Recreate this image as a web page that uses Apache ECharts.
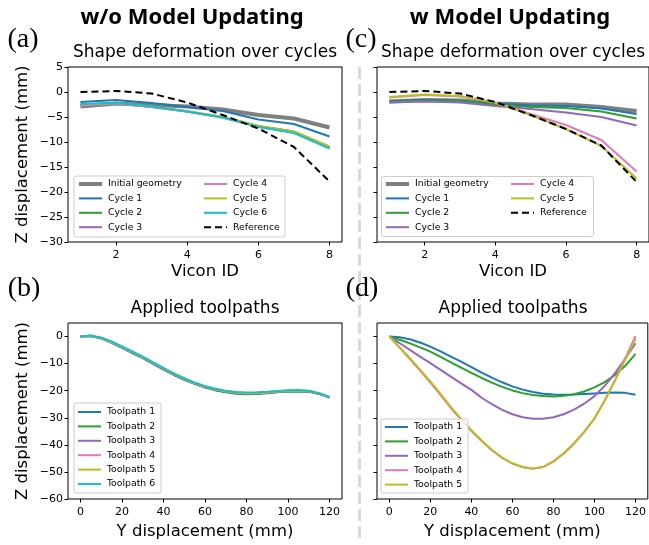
<!DOCTYPE html>
<html>
<head>
<meta charset="utf-8">
<script src="https://cdn.jsdelivr.net/npm/echarts@6/dist/echarts.min.js"></script>
<style>
html, body { margin: 0; padding: 0; background: #fff; }
#chart { width: 649px; height: 545px; }
</style>
</head>
<body>
<div id="chart"></div>
<script>
// ---- data ----
const viconIds = [1, 2, 3, 4, 5, 6, 7, 8];
const vTicks = [2, 4, 6, 8];
const zTicksTop = [-30, -25, -20, -15, -10, -5, 0, 5];

// (a) w/o model updating
const initialA = [-2.9, -2.3, -2.6, -2.9, -3.5, -4.6, -5.3, -7.1];
const cycle1A = [-2.0, -1.6, -2.2, -3.0, -3.8, -5.5, -6.4, -8.9];
const cycle2A = [-2.5, -2.2, -2.9, -3.9, -5.0, -6.8, -7.9, -11.0];
const cycle3A = [-2.8, -2.3, -3.0, -3.9, -5.1, -6.9, -8.0, -11.1];
const cycle4A = [-2.7, -2.3, -3.0, -3.9, -5.1, -6.9, -8.1, -11.1];
const cycle5A = [-2.5, -2.2, -2.9, -3.8, -5.0, -6.8, -7.9, -10.9];
const cycle6A = [-2.4, -2.2, -2.9, -3.9, -5.1, -7.0, -8.2, -11.3];
const refA = [0.0, 0.2, -0.3, -2.1, -4.6, -7.3, -11.0, -17.9];

// (c) w model updating
const initialC = [-1.9, -1.6, -1.7, -2.3, -2.5, -2.5, -3.0, -3.8];
const cycle1C = [-1.8, -1.6, -1.7, -2.3, -2.7, -2.8, -3.3, -4.4];
const cycle2C = [-1.9, -1.7, -1.8, -2.5, -3.0, -3.2, -3.9, -5.3];
const cycle3C = [-2.1, -1.9, -2.1, -2.8, -3.4, -4.1, -5.0, -6.7];
const cycle4C = [-1.1, -0.6, -0.9, -2.1, -4.4, -6.6, -9.6, -15.9];
const cycle5C = [-1.0, -0.5, -0.8, -2.1, -4.6, -7.4, -10.8, -17.3];
const refC = [0.0, 0.2, -0.3, -2.0, -4.6, -7.4, -10.7, -18.0];

// toolpaths, Y displacement (mm)
const yDisp = [0, 5, 10, 15, 20, 25, 30, 35, 40, 45, 50, 55, 60, 65, 70, 75, 80, 85, 90, 95, 100, 105, 110, 115, 120];
const yTicks = [0, 20, 40, 60, 80, 100, 120];
const zTicksBottom = [-60, -50, -40, -30, -20, -10, 0];

// (b)
const path1B = [0, 0.2, -0.7, -2.3, -4.2, -6.1, -8.0, -10.1, -12.2, -14.2, -16.0, -17.5, -18.8, -19.8, -20.5, -20.9, -21.1, -21.0, -20.8, -20.5, -20.3, -20.2, -20.4, -21.2, -22.5];
const path2B = [0, 0.2, -0.6, -2.1, -4.0, -5.9, -7.8, -9.9, -12.0, -14.0, -15.8, -17.4, -18.7, -19.8, -20.6, -21.1, -21.3, -21.2, -20.9, -20.6, -20.3, -20.2, -20.3, -21.1, -22.4];
const path3B = [0, 0.3, -0.5, -2.0, -3.9, -5.8, -7.7, -9.8, -11.9, -13.9, -15.7, -17.3, -18.6, -19.6, -20.3, -20.8, -21.0, -20.9, -20.7, -20.4, -20.1, -20.0, -20.2, -21.0, -22.4];
const path4B = [0, 0.3, -0.5, -2.0, -3.9, -5.7, -7.6, -9.7, -11.8, -13.8, -15.6, -17.2, -18.5, -19.5, -20.2, -20.7, -20.9, -20.9, -20.7, -20.4, -20.1, -20.0, -20.2, -21.0, -22.4];
const path5B = [0, 0.3, -0.5, -2.0, -3.8, -5.7, -7.6, -9.7, -11.8, -13.8, -15.6, -17.2, -18.5, -19.5, -20.2, -20.7, -20.9, -20.8, -20.6, -20.3, -20.0, -19.9, -20.1, -21.0, -22.4];
const path6B = [0, 0.4, -0.4, -1.8, -3.6, -5.5, -7.4, -9.5, -11.6, -13.6, -15.4, -17.0, -18.3, -19.3, -20.0, -20.5, -20.7, -20.6, -20.4, -20.1, -19.8, -19.7, -20.0, -20.9, -22.4];

// (d)
const path1D = [0, -0.3, -1.0, -2.2, -3.7, -5.5, -7.4, -9.3, -11.3, -13.3, -15.2, -16.9, -18.4, -19.6, -20.5, -21.1, -21.4, -21.5, -21.4, -21.2, -21.0, -20.8, -20.7, -20.8, -21.5];
const path2D = [0, -1.2, -2.5, -4.0, -5.6, -7.5, -9.5, -11.5, -13.4, -15.3, -17.0, -18.6, -19.9, -20.9, -21.6, -22.0, -22.1, -21.9, -21.3, -20.3, -18.8, -16.8, -14.2, -10.8, -6.4];
const path3D = [0, -2.4, -4.9, -7.4, -9.8, -12.3, -14.8, -17.3, -19.7, -22.6, -25.0, -27.1, -28.7, -29.8, -30.4, -30.4, -29.8, -28.7, -27.0, -24.8, -22.0, -18.2, -13.5, -8.2, -2.5];
const path4D = [0, -4.1, -8.3, -12.6, -17.0, -21.6, -26.4, -30.8, -34.9, -38.6, -42.0, -44.8, -46.9, -48.3, -48.8, -48.2, -46.2, -43.3, -39.6, -35.3, -30.3, -23.6, -16.1, -8.0, 0.2];
const path5D = [0, -3.9, -8.0, -12.2, -16.6, -21.2, -26.0, -30.4, -34.6, -38.4, -41.8, -44.7, -46.8, -48.2, -48.7, -48.1, -46.0, -43.1, -39.4, -35.1, -30.2, -23.7, -16.3, -8.6, -0.8];

const C = {
  gray: '#7f7f7f', blue: '#1f77b4', green: '#2ca02c', purple: '#9467bd',
  pink: '#e377c2', olive: '#bcbd22', cyan: '#17becf', black: '#000'
};
const FONT = 'DejaVu Sans';

function pairs(xs, ys) { return xs.map((x, i) => [x, ys[i]]); }
function line(name, xs, ys, idx, color, width, dash) {
  return {
    type: 'line', name: name, xAxisIndex: idx, yAxisIndex: idx,
    data: pairs(xs, ys), symbol: 'none', smooth: false,
    lineStyle: { color: color, width: width || 2, type: dash || 'solid' },
    itemStyle: { color: color },
    emphasis: { disabled: true }, z: 2
  };
}
const minus = v => String(v).replace('-', '\u2212');

function xAxis(idx, min, max, ticks, name) {
  return {
    type: 'value', gridIndex: idx, min: min, max: max,
    name: name || '', nameLocation: 'middle', nameGap: name === 'Vicon ID' ? 21 : 24,
    nameTextStyle: { fontFamily: FONT, fontSize: 16.5, color: '#000' },
    axisLine: { show: false, onZero: false }, splitLine: { show: false },
    axisTick: { show: true, length: 3.5, lineStyle: { color: '#000', width: 1 }, customValues: ticks },
    axisLabel: { show: true, customValues: ticks, margin: 8, fontFamily: FONT, fontSize: 11, color: '#000', formatter: minus }
  };
}
function yAxis(idx, min, max, ticks, name, showLabels) {
  return {
    type: 'value', gridIndex: idx, min: min, max: max,
    name: name || '', nameLocation: 'middle', nameGap: 37, nameRotate: 90,
    nameTextStyle: { fontFamily: FONT, fontSize: 16.5, color: '#000' },
    axisLine: { show: false, onZero: false }, splitLine: { show: false },
    axisTick: { show: true, length: 3.5, lineStyle: { color: '#000', width: 1 }, customValues: ticks },
    axisLabel: { show: showLabels, customValues: ticks, margin: 5, fontFamily: FONT, fontSize: 11, color: '#000', formatter: minus }
  };
}
function legend(names, left, top, widths) {
  return {
    show: true, orient: 'vertical', left: left, top: top, z: 20,
    itemWidth: 23, itemHeight: 10, itemGap: 4.4, padding: 0,
    selectedMode: false,
    itemStyle: { opacity: 0 },
    textStyle: { fontFamily: FONT, fontSize: 9.3, color: '#000', lineHeight: 10, padding: [0, 0, 0, 1] },
    data: names.map(n => ({ name: n, itemStyle: { opacity: 0 }, lineStyle: { width: (widths && widths[n]) || 2 } }))
  };
}
function frame(x, y, w, h) {
  return {
    type: 'rect', z: 10, silent: true,
    shape: { x: x, y: y, width: w, height: h, r: 2 },
    style: { fill: 'rgba(255,255,255,0.8)', stroke: '#cccccc', lineWidth: 1 }
  };
}
function label(text, x, y, font) {
  return { type: 'text', z: 30, silent: true, x: x, y: y,
    style: { text: text, font: font, fill: '#000', textAlign: 'center', textVerticalAlign: 'middle' } };
}

const grids = [
  { left: 68, top: 67, width: 274, height: 175 },
  { left: 377, top: 67, width: 272, height: 175 },
  { left: 68, top: 323, width: 274, height: 176 },
  { left: 377, top: 323, width: 272, height: 176 }
].map(g => Object.assign(g, { show: true, borderColor: '#000', borderWidth: 1, backgroundColor: 'transparent', containLabel: false }));

const option = {
  animation: false,
  backgroundColor: '#fff',
  grid: grids,
  xAxis: [
    xAxis(0, 0.65, 8.35, vTicks, 'Vicon ID'),
    xAxis(1, 0.65, 8.35, vTicks, 'Vicon ID'),
    xAxis(2, -6, 126, yTicks, 'Y displacement (mm)'),
    xAxis(3, -6, 126, yTicks, 'Y displacement (mm)')
  ],
  yAxis: [
    yAxis(0, -30, 5, zTicksTop, 'Z displacement (mm)', true),
    yAxis(1, -30, 5, zTicksTop, '', false),
    yAxis(2, -60, 5, zTicksBottom, 'Z displacement (mm)', true),
    yAxis(3, -60, 5, zTicksBottom, '', false)
  ],
  legend: [
    legend(['Initial geometry', 'Cycle 1', 'Cycle 2', 'Cycle 3'], 77, 179, { 'Initial geometry': 4 }),
    legend(['Cycle 4', 'Cycle 5', 'Cycle 6', 'Reference'], 203, 179),
    legend(['Initial geometry', 'Cycle 1', 'Cycle 2', 'Cycle 3'], 384, 179, { 'Initial geometry': 4 }),
    legend(['Cycle 4', 'Cycle 5', 'Reference'], 510, 179),
    legend(['Toolpath 1', 'Toolpath 2', 'Toolpath 3', 'Toolpath 4', 'Toolpath 5', 'Toolpath 6'], 77, 407),
    legend(['Toolpath 1', 'Toolpath 2', 'Toolpath 3', 'Toolpath 4', 'Toolpath 5'], 384, 422)
  ],
  graphic: [
    label('w/o Model Updating', 192, 18, 'bold 22px "Noto Sans"'),
    label('w Model Updating', 510, 18, 'bold 22px "Noto Sans"'),
    label('(a)', 23, 40, '28px "Liberation Serif"'),
    label('(c)', 361, 40, '28px "Liberation Serif"'),
    label('(b)', 24, 289, '28px "Liberation Serif"'),
    label('(d)', 362, 289, '28px "Liberation Serif"'),
    label('Shape deformation over cycles', 205, 53, '17px "DejaVu Sans"'),
    label('Shape deformation over cycles', 513, 53, '17px "DejaVu Sans"'),
    label('Applied toolpaths', 205, 309, '17px "DejaVu Sans"'),
    label('Applied toolpaths', 513, 309, '17px "DejaVu Sans"'),
    { type: 'line', z: 1, silent: true, shape: { x1: 359.5, y1: 67, x2: 359.5, y2: 538 },
      style: { stroke: '#d9d9d9', lineWidth: 3, lineDash: [12, 5] } },
    frame(74, 176, 211, 61),
    frame(381.5, 176.5, 212, 60),
    frame(74, 403, 87, 90),
    frame(381, 419, 87, 74)
  ],
  series: [
    line('Initial geometry', viconIds, initialA, 0, C.gray, 4),
    line('Cycle 1', viconIds, cycle1A, 0, C.blue),
    line('Cycle 2', viconIds, cycle2A, 0, C.green),
    line('Cycle 3', viconIds, cycle3A, 0, C.purple),
    line('Cycle 4', viconIds, cycle4A, 0, C.pink),
    line('Cycle 5', viconIds, cycle5A, 0, C.olive),
    line('Cycle 6', viconIds, cycle6A, 0, C.cyan),
    line('Reference', viconIds, refA, 0, C.black, 2, [7, 4]),

    line('Initial geometry', viconIds, initialC, 1, C.gray, 4),
    line('Cycle 1', viconIds, cycle1C, 1, C.blue),
    line('Cycle 2', viconIds, cycle2C, 1, C.green),
    line('Cycle 3', viconIds, cycle3C, 1, C.purple),
    line('Cycle 4', viconIds, cycle4C, 1, C.pink),
    line('Cycle 5', viconIds, cycle5C, 1, C.olive),
    line('Reference', viconIds, refC, 1, C.black, 2, [7, 4]),

    line('Toolpath 1', yDisp, path1B, 2, C.blue),
    line('Toolpath 2', yDisp, path2B, 2, C.green),
    line('Toolpath 3', yDisp, path3B, 2, C.purple),
    line('Toolpath 4', yDisp, path4B, 2, C.pink),
    line('Toolpath 5', yDisp, path5B, 2, C.olive),
    line('Toolpath 6', yDisp, path6B, 2, C.cyan),

    line('Toolpath 1', yDisp, path1D, 3, C.blue),
    line('Toolpath 2', yDisp, path2D, 3, C.green),
    line('Toolpath 3', yDisp, path3D, 3, C.purple),
    line('Toolpath 4', yDisp, path4D, 3, C.pink),
    line('Toolpath 5', yDisp, path5D, 3, C.olive)
  ]
};

const myChart = echarts.init(document.getElementById('chart'), null, { renderer: 'canvas' });
myChart.setOption(option);
</script>
</body>
</html>
